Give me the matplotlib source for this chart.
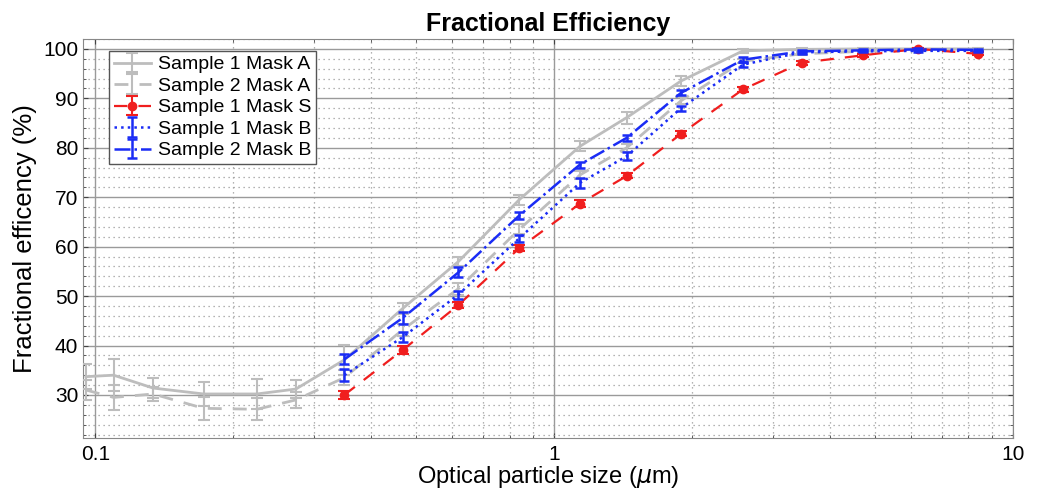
import numpy as np
import matplotlib.pyplot as plt
from matplotlib.ticker import FixedLocator, MultipleLocator, NullFormatter

plt.rcParams['font.family'] = ['Liberation Sans', 'DejaVu Sans']

# particle size bins (um)
size_a = [0.0954, 0.1096, 0.1336, 0.1722, 0.225, 0.2737, 0.349, 0.468, 0.619,
          0.840, 1.139, 1.440, 1.891, 2.581, 3.465, 4.713, 6.209, 8.389]
size_b = size_a[6:]

# Sample 1 Mask A (grey solid)
s1a = [33.7, 34.0, 31.4, 30.2, 30.2, 31.2, 37.1, 47.5, 57.0, 69.5, 80.3, 86.1,
       93.5, 99.6, 99.9, 100.0, 100.0, 100.0]
s1a_err = [2.5, 3.3, 2.0, 2.5, 3.0, 1.8, 3.0, 1.2, 1.0, 1.0, 1.0, 1.2, 1.0,
           0.4, 0.2, 0.2, 0.2, 0.2]

# Sample 2 Mask A (grey dashed)
s2a = [31.0, 29.5, 30.2, 27.3, 27.1, 29.0, 33.5, 43.2, 51.5, 63.5, 74.5, 80.0,
       89.5, 97.5, 99.0, 99.5, 99.8, 99.8]
s2a_err = [2.0, 2.5, 1.5, 2.3, 2.2, 1.6, 1.5, 1.2, 1.2, 1.0, 0.8, 0.8, 0.7,
           0.4, 0.3, 0.2, 0.2, 0.2]

# Sample 1 Mask S (red)
s1s = [30.0, 39.1, 48.2, 59.7, 68.7, 74.3, 82.8, 91.8, 97.2, 98.7, 100.0, 99.0]
s1s_err = [0.8, 0.8, 0.7, 0.6, 0.7, 0.5, 0.5, 0.5, 0.4, 0.3, 0.2, 0.3]

# Sample 1 Mask B (blue dotted)
s1b = [34.0, 41.7, 50.3, 61.7, 72.9, 78.3, 88.0, 96.8, 99.3, 99.5, 99.6, 99.6]
s1b_err = [1.2, 1.0, 0.8, 0.7, 1.0, 0.8, 0.5, 0.5, 0.3, 0.2, 0.2, 0.2]

# Sample 2 Mask B (blue dash-dot)
s2b = [37.2, 45.6, 54.8, 66.3, 76.6, 82.0, 91.1, 97.8, 99.5, 99.7, 99.9, 99.8]
s2b_err = [1.0, 1.2, 1.0, 0.8, 0.6, 0.6, 0.5, 0.5, 0.3, 0.2, 0.2, 0.2]

grey = '#bdbdbd'
blue = '#1a2cf5'
red = '#f01e1e'

fig = plt.figure(figsize=(10.4, 4.91), dpi=100)
ax = fig.add_axes([0.0798, 0.108, 0.894, 0.8126])

ax.errorbar(size_a, s1a, yerr=s1a_err, color=grey, lw=2, ls='-', capsize=4,
            elinewidth=1.5, capthick=1.5, label='Sample 1 Mask A', zorder=3)
ax.errorbar(size_a, s2a, yerr=s2a_err, color=grey, lw=2, ls=(0, (5, 4)), capsize=4,
            elinewidth=1.5, capthick=1.5, label='Sample 2 Mask A', zorder=3)
ax.errorbar(size_b, s1s, yerr=s1s_err, color=red, lw=1.6, ls=(0, (6, 5)), marker='o',
            ms=6, capsize=4, elinewidth=1.5, capthick=1.5, label='Sample 1 Mask S', zorder=4)
ax.errorbar(size_b, s1b, yerr=s1b_err, color=blue, lw=1.8, ls=':', capsize=3.5,
            elinewidth=1.8, capthick=1.8, label='Sample 1 Mask B', zorder=5)
ax.errorbar(size_b, s2b, yerr=s2b_err, color=blue, lw=1.8, ls='-.', capsize=3.5,
            elinewidth=1.8, capthick=1.8, label='Sample 2 Mask B', zorder=5)

ax.set_xscale('log')
ax.set_xlim(0.094, 10)
ax.set_ylim(21.3, 102)
ax.xaxis.set_major_locator(FixedLocator([0.1, 1, 10]))
ax.set_xticklabels(['0.1', '1', '10'])
ax.xaxis.set_minor_formatter(NullFormatter())
ax.yaxis.set_major_locator(FixedLocator(range(30, 101, 10)))
ax.yaxis.set_minor_locator(MultipleLocator(2))

ax.grid(True, which='major', color='#9a9a9a', lw=1, ls='-', zorder=0)
ax.grid(True, which='minor', color='#9a9a9a', lw=0.9, ls=(0, (1, 3)), zorder=0)
ax.set_axisbelow(True)
ax.tick_params(which='both', direction='in', top=True, right=True, labelsize=15,
               color='#444444')
ax.tick_params(axis='x', pad=5)
for sp in ax.spines.values():
    sp.set_color('#888888')

ax.set_title('Fractional Efficiency', fontsize=18, fontweight='bold', pad=6)
ax.set_xlabel('Optical particle size ($\\mu$m)', fontsize=17, labelpad=0)
ax.set_ylabel('Fractional efficency (%)', fontsize=18.5, labelpad=4)

leg = ax.legend(loc='upper left', bbox_to_anchor=(0.028, 0.97), fontsize=14,
                frameon=True, fancybox=False, edgecolor='#555555', framealpha=1,
                handlelength=1.9, borderpad=0.25, labelspacing=0.2, handletextpad=0.35,
                borderaxespad=0)
leg.get_frame().set_linewidth(1)

plt.savefig('out.png', dpi=100)
